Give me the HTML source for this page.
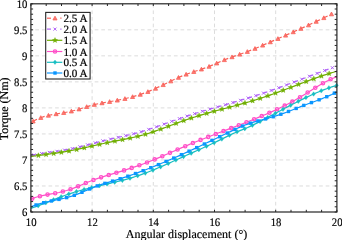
<!DOCTYPE html>
<html><head><meta charset="utf-8"><style>
html,body{margin:0;padding:0;background:#fff;}
svg{display:block;will-change:transform;}
text{text-rendering:geometricPrecision;font-family:"Liberation Serif",serif;fill:#000;stroke:#000;stroke-width:0.18px;}
.lg text{stroke-width:0.22px;}
.tk text{font-size:11.5px;}
.lg text{font-size:11.1px;}
.al{font-size:12px;}
</style></head><body>
<svg width="342" height="240" viewBox="0 0 342 240">
<rect width="342" height="240" fill="#fff"/>
<path d="M92.1 3.8V212M153.3 3.8V212M214.5 3.8V212M275.7 3.8V212" stroke="#DCDCDC" stroke-width="1" stroke-dasharray="3.7 2.9" fill="none"/>
<path d="M336.9 185.97H30.9M336.9 159.95H30.9M336.9 133.93H30.9M336.9 107.9H30.9M336.9 81.87H30.9M336.9 55.85H30.9M336.9 29.82H30.9" stroke="#DCDCDC" stroke-width="1" stroke-dasharray="3.7 2.9" stroke-dashoffset="5.7" fill="none"/>
<path d="M32.82 121.38L36.95 119.25M40.47 117.79L44.59 116.42M48.12 115.49L52.25 114.61M55.77 113.98L59.9 113.31M63.42 112.74L67.55 112.01M71.07 111.28L75.2 110.23M78.72 109.22L82.85 107.95M86.37 106.86L90.5 105.63M94.02 104.68L98.14 103.73M101.67 103.05L105.8 102.33M109.32 101.74L113.45 101.01M116.97 100.35L121.1 99.51M124.62 98.74L128.75 97.75M132.27 96.84L136.39 95.67M139.92 94.57L144.04 93.16M147.57 91.84L151.69 90.14M155.22 88.58L159.34 86.66M162.87 84.97L167 82.96M170.52 81.25L174.65 79.29M178.17 77.67L182.29 75.88M185.82 74.47L189.94 72.98M193.47 71.8L197.59 70.47M201.12 69.33L205.25 67.92M208.77 66.61L212.9 64.89M216.42 63.33L220.55 61.49M224.07 59.97L228.19 58.35M231.72 57.07L235.84 55.64M239.37 54.45L243.5 53.03M247.02 51.76L251.15 50.16M254.67 48.71L258.8 46.96M262.32 45.44L266.44 43.65M269.97 42.13L274.09 40.34M277.62 38.81L281.75 37.02M285.27 35.48L289.39 33.67M292.92 32.12L297.05 30.28M300.57 28.7L304.69 26.83M308.22 25.22L312.35 23.31M315.87 21.66L320 19.69M323.52 17.99L327.64 15.97" fill="none" stroke="#F95F57" stroke-width="1.2"/>
<path d="M33.12 119.21L35.17 122.96H31.07Z" fill="#F95F57" fill-opacity="0.8" stroke="#F95F57" stroke-width="0.8"/><path d="M40.77 115.68L42.82 119.43H38.72Z" fill="#F95F57" fill-opacity="0.8" stroke="#F95F57" stroke-width="0.8"/><path d="M48.42 113.42L50.47 117.17H46.37Z" fill="#F95F57" fill-opacity="0.8" stroke="#F95F57" stroke-width="0.8"/><path d="M56.07 111.93L58.12 115.68H54.02Z" fill="#F95F57" fill-opacity="0.8" stroke="#F95F57" stroke-width="0.8"/><path d="M63.72 110.69L65.77 114.44H61.67Z" fill="#F95F57" fill-opacity="0.8" stroke="#F95F57" stroke-width="0.8"/><path d="M71.37 109.21L73.42 112.96H69.32Z" fill="#F95F57" fill-opacity="0.8" stroke="#F95F57" stroke-width="0.8"/><path d="M79.02 107.13L81.07 110.88H76.97Z" fill="#F95F57" fill-opacity="0.8" stroke="#F95F57" stroke-width="0.8"/><path d="M86.67 104.76L88.72 108.51H84.62Z" fill="#F95F57" fill-opacity="0.8" stroke="#F95F57" stroke-width="0.8"/><path d="M94.32 102.6L96.37 106.35H92.27Z" fill="#F95F57" fill-opacity="0.8" stroke="#F95F57" stroke-width="0.8"/><path d="M101.97 100.99L104.02 104.74H99.92Z" fill="#F95F57" fill-opacity="0.8" stroke="#F95F57" stroke-width="0.8"/><path d="M109.62 99.68L111.67 103.43H107.57Z" fill="#F95F57" fill-opacity="0.8" stroke="#F95F57" stroke-width="0.8"/><path d="M117.27 98.29L119.32 102.04H115.22Z" fill="#F95F57" fill-opacity="0.8" stroke="#F95F57" stroke-width="0.8"/><path d="M124.92 96.67L126.97 100.42H122.87Z" fill="#F95F57" fill-opacity="0.8" stroke="#F95F57" stroke-width="0.8"/><path d="M132.57 94.75L134.62 98.5H130.52Z" fill="#F95F57" fill-opacity="0.8" stroke="#F95F57" stroke-width="0.8"/><path d="M140.22 92.47L142.27 96.22H138.17Z" fill="#F95F57" fill-opacity="0.8" stroke="#F95F57" stroke-width="0.8"/><path d="M147.87 89.72L149.92 93.47H145.82Z" fill="#F95F57" fill-opacity="0.8" stroke="#F95F57" stroke-width="0.8"/><path d="M155.52 86.44L157.57 90.19H153.47Z" fill="#F95F57" fill-opacity="0.8" stroke="#F95F57" stroke-width="0.8"/><path d="M163.17 82.82L165.22 86.57H161.12Z" fill="#F95F57" fill-opacity="0.8" stroke="#F95F57" stroke-width="0.8"/><path d="M170.82 79.11L172.87 82.86H168.77Z" fill="#F95F57" fill-opacity="0.8" stroke="#F95F57" stroke-width="0.8"/><path d="M178.47 75.54L180.52 79.29H176.42Z" fill="#F95F57" fill-opacity="0.8" stroke="#F95F57" stroke-width="0.8"/><path d="M186.12 72.36L188.17 76.11H184.07Z" fill="#F95F57" fill-opacity="0.8" stroke="#F95F57" stroke-width="0.8"/><path d="M193.77 69.7L195.82 73.45H191.72Z" fill="#F95F57" fill-opacity="0.8" stroke="#F95F57" stroke-width="0.8"/><path d="M201.42 67.23L203.47 70.98H199.37Z" fill="#F95F57" fill-opacity="0.8" stroke="#F95F57" stroke-width="0.8"/><path d="M209.07 64.49L211.12 68.24H207.02Z" fill="#F95F57" fill-opacity="0.8" stroke="#F95F57" stroke-width="0.8"/><path d="M216.72 61.2L218.77 64.95H214.67Z" fill="#F95F57" fill-opacity="0.8" stroke="#F95F57" stroke-width="0.8"/><path d="M224.37 57.85L226.42 61.6H222.32Z" fill="#F95F57" fill-opacity="0.8" stroke="#F95F57" stroke-width="0.8"/><path d="M232.02 54.96L234.07 58.71H229.97Z" fill="#F95F57" fill-opacity="0.8" stroke="#F95F57" stroke-width="0.8"/><path d="M239.67 52.35L241.72 56.1H237.62Z" fill="#F95F57" fill-opacity="0.8" stroke="#F95F57" stroke-width="0.8"/><path d="M247.32 49.65L249.37 53.4H245.27Z" fill="#F95F57" fill-opacity="0.8" stroke="#F95F57" stroke-width="0.8"/><path d="M254.97 46.59L257.02 50.34H252.92Z" fill="#F95F57" fill-opacity="0.8" stroke="#F95F57" stroke-width="0.8"/><path d="M262.62 43.31L264.67 47.06H260.57Z" fill="#F95F57" fill-opacity="0.8" stroke="#F95F57" stroke-width="0.8"/><path d="M270.27 40L272.32 43.75H268.22Z" fill="#F95F57" fill-opacity="0.8" stroke="#F95F57" stroke-width="0.8"/><path d="M277.92 36.68L279.97 40.43H275.87Z" fill="#F95F57" fill-opacity="0.8" stroke="#F95F57" stroke-width="0.8"/><path d="M285.57 33.35L287.62 37.1H283.52Z" fill="#F95F57" fill-opacity="0.8" stroke="#F95F57" stroke-width="0.8"/><path d="M293.22 29.98L295.27 33.73H291.17Z" fill="#F95F57" fill-opacity="0.8" stroke="#F95F57" stroke-width="0.8"/><path d="M300.87 26.57L302.92 30.32H298.82Z" fill="#F95F57" fill-opacity="0.8" stroke="#F95F57" stroke-width="0.8"/><path d="M308.52 23.08L310.57 26.83H306.47Z" fill="#F95F57" fill-opacity="0.8" stroke="#F95F57" stroke-width="0.8"/><path d="M316.17 19.51L318.22 23.26H314.12Z" fill="#F95F57" fill-opacity="0.8" stroke="#F95F57" stroke-width="0.8"/><path d="M323.82 15.85L325.87 19.6H321.77Z" fill="#F95F57" fill-opacity="0.8" stroke="#F95F57" stroke-width="0.8"/><path d="M331.47 12.06L333.52 15.81H329.42Z" fill="#F95F57" fill-opacity="0.8" stroke="#F95F57" stroke-width="0.8"/>
<path d="M30.9 155.72L37.83 154.22M41.35 153.6L45.48 152.95M49 152.44L53.12 151.86M56.65 151.37L60.78 150.75M64.3 150.17L68.42 149.4M71.95 148.67L76.08 147.74M79.6 146.88L83.73 145.84M87.25 144.93L91.38 143.84M94.9 142.91L99.03 141.84M102.55 140.95L106.68 139.96M110.2 139.14L114.33 138.21M117.85 137.42L121.98 136.5M125.5 135.7L129.62 134.73M133.15 133.87L137.27 132.8M140.8 131.83L144.93 130.61M148.45 129.5L152.57 128.14M156.1 126.93L160.22 125.48M163.75 124.22L167.88 122.73M171.4 121.46L175.53 119.99M179.05 118.76L183.17 117.36M186.7 116.19L190.82 114.87M194.35 113.76L198.47 112.5M202 111.44L206.12 110.23M209.65 109.2L213.78 108.01M217.3 107L221.43 105.83M224.95 104.83L229.07 103.65M232.6 102.64L236.72 101.45M240.25 100.41L244.38 99.19M247.9 98.12L252.03 96.84M255.55 95.73L259.68 94.39M263.2 93.21L267.32 91.81M270.85 90.58L274.97 89.12M278.5 87.85L282.62 86.35M286.15 85.05L290.28 83.51M293.8 82.19L297.93 80.63M301.45 79.3L305.57 77.73M309.1 76.39L313.23 74.83M316.75 73.5L320.88 71.95M324.4 70.63L328.52 69.11" fill="none" stroke="#AF62F7" stroke-width="1.2"/>
<path d="M32.5 153.5L35.5 156.5M32.5 156.5L35.5 153.5" fill="none" stroke="#AF62F7" stroke-width="1.0"/><path d="M40.15 152.05L43.15 155.05M40.15 155.05L43.15 152.05" fill="none" stroke="#AF62F7" stroke-width="1.0"/><path d="M47.8 150.89L50.8 153.89M47.8 153.89L50.8 150.89" fill="none" stroke="#AF62F7" stroke-width="1.0"/><path d="M55.45 149.82L58.45 152.82M55.45 152.82L58.45 149.82" fill="none" stroke="#AF62F7" stroke-width="1.0"/><path d="M63.1 148.62L66.1 151.62M63.1 151.62L66.1 148.62" fill="none" stroke="#AF62F7" stroke-width="1.0"/><path d="M70.75 147.1L73.75 150.1M70.75 150.1L73.75 147.1" fill="none" stroke="#AF62F7" stroke-width="1.0"/><path d="M78.4 145.31L81.4 148.31M78.4 148.31L81.4 145.31" fill="none" stroke="#AF62F7" stroke-width="1.0"/><path d="M86.05 143.35L89.05 146.35M86.05 146.35L89.05 143.35" fill="none" stroke="#AF62F7" stroke-width="1.0"/><path d="M93.7 141.34L96.7 144.34M93.7 144.34L96.7 141.34" fill="none" stroke="#AF62F7" stroke-width="1.0"/><path d="M101.35 139.38L104.35 142.38M101.35 142.38L104.35 139.38" fill="none" stroke="#AF62F7" stroke-width="1.0"/><path d="M109 137.57L112 140.57M109 140.57L112 137.57" fill="none" stroke="#AF62F7" stroke-width="1.0"/><path d="M116.65 135.85L119.65 138.85M116.65 138.85L119.65 135.85" fill="none" stroke="#AF62F7" stroke-width="1.0"/><path d="M124.3 134.13L127.3 137.13M124.3 137.13L127.3 134.13" fill="none" stroke="#AF62F7" stroke-width="1.0"/><path d="M131.95 132.29L134.95 135.29M131.95 135.29L134.95 132.29" fill="none" stroke="#AF62F7" stroke-width="1.0"/><path d="M139.6 130.24L142.6 133.24M139.6 133.24L142.6 130.24" fill="none" stroke="#AF62F7" stroke-width="1.0"/><path d="M147.25 127.9L150.25 130.9M147.25 130.9L150.25 127.9" fill="none" stroke="#AF62F7" stroke-width="1.0"/><path d="M154.9 125.33L157.9 128.33M154.9 128.33L157.9 125.33" fill="none" stroke="#AF62F7" stroke-width="1.0"/><path d="M162.55 122.61L165.55 125.61M162.55 125.61L165.55 122.61" fill="none" stroke="#AF62F7" stroke-width="1.0"/><path d="M170.2 119.85L173.2 122.85M170.2 122.85L173.2 119.85" fill="none" stroke="#AF62F7" stroke-width="1.0"/><path d="M177.85 117.15L180.85 120.15M177.85 120.15L180.85 117.15" fill="none" stroke="#AF62F7" stroke-width="1.0"/><path d="M185.5 114.6L188.5 117.6M185.5 117.6L188.5 114.6" fill="none" stroke="#AF62F7" stroke-width="1.0"/><path d="M193.15 112.17L196.15 115.17M193.15 115.17L196.15 112.17" fill="none" stroke="#AF62F7" stroke-width="1.0"/><path d="M200.8 109.85L203.8 112.85M200.8 112.85L203.8 109.85" fill="none" stroke="#AF62F7" stroke-width="1.0"/><path d="M208.45 107.61L211.45 110.61M208.45 110.61L211.45 107.61" fill="none" stroke="#AF62F7" stroke-width="1.0"/><path d="M216.1 105.42L219.1 108.42M216.1 108.42L219.1 105.42" fill="none" stroke="#AF62F7" stroke-width="1.0"/><path d="M223.75 103.24L226.75 106.24M223.75 106.24L226.75 103.24" fill="none" stroke="#AF62F7" stroke-width="1.0"/><path d="M231.4 101.05L234.4 104.05M231.4 104.05L234.4 101.05" fill="none" stroke="#AF62F7" stroke-width="1.0"/><path d="M239.05 98.82L242.05 101.82M239.05 101.82L242.05 98.82" fill="none" stroke="#AF62F7" stroke-width="1.0"/><path d="M246.7 96.53L249.7 99.53M246.7 99.53L249.7 96.53" fill="none" stroke="#AF62F7" stroke-width="1.0"/><path d="M254.35 94.13L257.35 97.13M254.35 97.13L257.35 94.13" fill="none" stroke="#AF62F7" stroke-width="1.0"/><path d="M262 91.61L265 94.61M262 94.61L265 91.61" fill="none" stroke="#AF62F7" stroke-width="1.0"/><path d="M269.65 88.97L272.65 91.97M269.65 91.97L272.65 88.97" fill="none" stroke="#AF62F7" stroke-width="1.0"/><path d="M277.3 86.24L280.3 89.24M277.3 89.24L280.3 86.24" fill="none" stroke="#AF62F7" stroke-width="1.0"/><path d="M284.95 83.44L287.95 86.44M284.95 86.44L287.95 83.44" fill="none" stroke="#AF62F7" stroke-width="1.0"/><path d="M292.6 80.58L295.6 83.58M292.6 83.58L295.6 80.58" fill="none" stroke="#AF62F7" stroke-width="1.0"/><path d="M300.25 77.68L303.25 80.68M300.25 80.68L303.25 77.68" fill="none" stroke="#AF62F7" stroke-width="1.0"/><path d="M307.9 74.78L310.9 77.78M307.9 77.78L310.9 74.78" fill="none" stroke="#AF62F7" stroke-width="1.0"/><path d="M315.55 71.89L318.55 74.89M315.55 74.89L318.55 71.89" fill="none" stroke="#AF62F7" stroke-width="1.0"/><path d="M323.2 69.02L326.2 72.02M323.2 72.02L326.2 69.02" fill="none" stroke="#AF62F7" stroke-width="1.0"/><path d="M330.85 66.21L333.85 69.21M330.85 69.21L333.85 66.21" fill="none" stroke="#AF62F7" stroke-width="1.0"/>
<path d="M30.9 156.45L33.45 156.11L36 155.77L38.55 155.44L41.1 155.11L43.65 154.78L46.2 154.45L48.75 154.12L51.3 153.78L53.85 153.43L56.4 153.07L58.95 152.69L61.5 152.3L64.05 151.89L66.6 151.46L69.15 151L71.7 150.52L74.25 150.02L76.8 149.5L79.35 148.95L81.9 148.4L84.45 147.83L87 147.26L89.55 146.68L92.1 146.09L94.65 145.51L97.2 144.93L99.75 144.35L102.3 143.78L104.85 143.23L107.4 142.69L109.95 142.17L112.5 141.66L115.05 141.15L117.6 140.66L120.15 140.16L122.7 139.66L125.25 139.15L127.8 138.62L130.35 138.08L132.9 137.51L135.45 136.92L138 136.3L140.55 135.65L143.1 134.96L145.65 134.22L148.2 133.45L150.75 132.64L153.3 131.79L155.85 130.92L158.4 130.01L160.95 129.09L163.5 128.15L166.05 127.2L168.6 126.24L171.15 125.28L173.7 124.32L176.25 123.37L178.8 122.42L181.35 121.5L183.9 120.59L186.45 119.71L189 118.85L191.55 118.01L194.1 117.2L196.65 116.4L199.2 115.62L201.75 114.86L204.3 114.11L206.85 113.37L209.4 112.65L211.95 111.94L214.5 111.24L217.05 110.54L219.6 109.85L222.15 109.17L224.7 108.49L227.25 107.81L229.8 107.14L232.35 106.46L234.9 105.77L237.45 105.09L240 104.39L242.55 103.69L245.1 102.97L247.65 102.25L250.2 101.51L252.75 100.75L255.3 99.97L257.85 99.18L260.4 98.36L262.95 97.53L265.5 96.67L268.05 95.79L270.6 94.89L273.15 93.98L275.7 93.05L278.25 92.12L280.8 91.17L283.35 90.21L285.9 89.25L288.45 88.28L291 87.3L293.55 86.33L296.1 85.36L298.65 84.39L301.2 83.42L303.75 82.46L306.3 81.5L308.85 80.56L311.4 79.62L313.95 78.7L316.5 77.79L319.05 76.9L321.6 76.03L324.15 75.18L326.7 74.34L329.25 73.54L331.8 72.75L334.35 72L336.9 71.27" fill="none" stroke="#70AE02" stroke-width="1.2"/>
<path d="M38.43 152.76L39.11 154.52L41 154.62L39.52 155.81L40.02 157.64L38.43 156.61L36.84 157.64L37.34 155.81L35.86 154.62L37.75 154.52Z" fill="#70AE02" stroke="#70AE02" stroke-width="0.4"/><path d="M46.08 151.77L46.76 153.54L48.65 153.63L47.17 154.82L47.67 156.65L46.08 155.62L44.49 156.65L44.99 154.82L43.51 153.63L45.4 153.54Z" fill="#70AE02" stroke="#70AE02" stroke-width="0.4"/><path d="M53.73 150.75L54.41 152.52L56.3 152.61L54.82 153.8L55.32 155.63L53.73 154.6L52.14 155.63L52.64 153.8L51.16 152.61L53.05 152.52Z" fill="#70AE02" stroke="#70AE02" stroke-width="0.4"/><path d="M61.38 149.62L62.06 151.39L63.95 151.48L62.47 152.67L62.97 154.5L61.38 153.47L59.79 154.5L60.29 152.67L58.81 151.48L60.7 151.39Z" fill="#70AE02" stroke="#70AE02" stroke-width="0.4"/><path d="M69.03 148.32L69.71 150.09L71.6 150.19L70.12 151.38L70.62 153.21L69.03 152.17L67.44 153.21L67.94 151.38L66.46 150.19L68.35 150.09Z" fill="#70AE02" stroke="#70AE02" stroke-width="0.4"/><path d="M76.68 146.82L77.36 148.59L79.25 148.69L77.77 149.88L78.27 151.7L76.68 150.67L75.09 151.7L75.59 149.88L74.11 148.69L76 148.59Z" fill="#70AE02" stroke="#70AE02" stroke-width="0.4"/><path d="M84.33 145.16L85.01 146.93L86.9 147.02L85.42 148.21L85.92 150.04L84.33 149.01L82.74 150.04L83.24 148.21L81.76 147.02L83.65 146.93Z" fill="#70AE02" stroke="#70AE02" stroke-width="0.4"/><path d="M91.98 143.42L92.66 145.19L94.55 145.28L93.07 146.47L93.57 148.3L91.98 147.27L90.39 148.3L90.89 146.47L89.41 145.28L91.3 145.19Z" fill="#70AE02" stroke="#70AE02" stroke-width="0.4"/><path d="M99.63 141.68L100.31 143.45L102.2 143.54L100.72 144.73L101.22 146.56L99.63 145.53L98.04 146.56L98.54 144.73L97.06 143.54L98.95 143.45Z" fill="#70AE02" stroke="#70AE02" stroke-width="0.4"/><path d="M107.28 140.02L107.96 141.78L109.85 141.88L108.37 143.07L108.87 144.9L107.28 143.87L105.69 144.9L106.19 143.07L104.71 141.88L106.6 141.78Z" fill="#70AE02" stroke="#70AE02" stroke-width="0.4"/><path d="M114.93 138.48L115.61 140.25L117.5 140.34L116.02 141.53L116.52 143.36L114.93 142.33L113.34 143.36L113.84 141.53L112.36 140.34L114.25 140.25Z" fill="#70AE02" stroke="#70AE02" stroke-width="0.4"/><path d="M122.58 136.98L123.26 138.75L125.15 138.85L123.67 140.04L124.17 141.86L122.58 140.83L120.99 141.86L121.49 140.04L120.01 138.85L121.9 138.75Z" fill="#70AE02" stroke="#70AE02" stroke-width="0.4"/><path d="M130.23 135.4L130.91 137.17L132.8 137.27L131.32 138.46L131.82 140.29L130.23 139.25L128.64 140.29L129.14 138.46L127.66 137.27L129.55 137.17Z" fill="#70AE02" stroke="#70AE02" stroke-width="0.4"/><path d="M137.88 133.63L138.56 135.4L140.45 135.5L138.97 136.69L139.47 138.51L137.88 137.48L136.29 138.51L136.79 136.69L135.31 135.5L137.2 135.4Z" fill="#70AE02" stroke="#70AE02" stroke-width="0.4"/><path d="M145.53 131.56L146.21 133.33L148.1 133.43L146.62 134.62L147.12 136.44L145.53 135.41L143.94 136.44L144.44 134.62L142.96 133.43L144.85 133.33Z" fill="#70AE02" stroke="#70AE02" stroke-width="0.4"/><path d="M153.18 129.13L153.86 130.9L155.75 131L154.27 132.19L154.77 134.02L153.18 132.98L151.59 134.02L152.09 132.19L150.61 131L152.5 130.9Z" fill="#70AE02" stroke="#70AE02" stroke-width="0.4"/><path d="M160.83 126.43L161.51 128.2L163.4 128.3L161.92 129.49L162.42 131.32L160.83 130.28L159.24 131.32L159.74 129.49L158.26 128.3L160.15 128.2Z" fill="#70AE02" stroke="#70AE02" stroke-width="0.4"/><path d="M168.48 123.59L169.16 125.35L171.05 125.45L169.57 126.64L170.07 128.47L168.48 127.44L166.89 128.47L167.39 126.64L165.91 125.45L167.8 125.35Z" fill="#70AE02" stroke="#70AE02" stroke-width="0.4"/><path d="M176.13 120.71L176.81 122.48L178.7 122.58L177.22 123.77L177.72 125.6L176.13 124.56L174.54 125.6L175.04 123.77L173.56 122.58L175.45 122.48Z" fill="#70AE02" stroke="#70AE02" stroke-width="0.4"/><path d="M183.78 117.93L184.46 119.7L186.35 119.8L184.87 120.99L185.37 122.82L183.78 121.78L182.19 122.82L182.69 120.99L181.21 119.8L183.1 119.7Z" fill="#70AE02" stroke="#70AE02" stroke-width="0.4"/><path d="M191.43 115.35L192.11 117.12L194 117.22L192.52 118.41L193.02 120.24L191.43 119.2L189.84 120.24L190.34 118.41L188.86 117.22L190.75 117.12Z" fill="#70AE02" stroke="#70AE02" stroke-width="0.4"/><path d="M199.08 112.96L199.76 114.73L201.65 114.82L200.17 116.01L200.67 117.84L199.08 116.81L197.49 117.84L197.99 116.01L196.51 114.82L198.4 114.73Z" fill="#70AE02" stroke="#70AE02" stroke-width="0.4"/><path d="M206.73 110.71L207.41 112.48L209.3 112.57L207.82 113.76L208.32 115.59L206.73 114.56L205.14 115.59L205.64 113.76L204.16 112.57L206.05 112.48Z" fill="#70AE02" stroke="#70AE02" stroke-width="0.4"/><path d="M214.38 108.57L215.06 110.34L216.95 110.43L215.47 111.62L215.97 113.45L214.38 112.42L212.79 113.45L213.29 111.62L211.81 110.43L213.7 110.34Z" fill="#70AE02" stroke="#70AE02" stroke-width="0.4"/><path d="M222.03 106.5L222.71 108.27L224.6 108.37L223.12 109.56L223.62 111.39L222.03 110.35L220.44 111.39L220.94 109.56L219.46 108.37L221.35 108.27Z" fill="#70AE02" stroke="#70AE02" stroke-width="0.4"/><path d="M229.68 104.47L230.36 106.24L232.25 106.33L230.77 107.52L231.27 109.35L229.68 108.32L228.09 109.35L228.59 107.52L227.11 106.33L229 106.24Z" fill="#70AE02" stroke="#70AE02" stroke-width="0.4"/><path d="M237.33 102.42L238.01 104.19L239.9 104.28L238.42 105.47L238.92 107.3L237.33 106.27L235.74 107.3L236.24 105.47L234.76 104.28L236.65 104.19Z" fill="#70AE02" stroke="#70AE02" stroke-width="0.4"/><path d="M244.98 100.31L245.66 102.08L247.55 102.17L246.07 103.36L246.57 105.19L244.98 104.16L243.39 105.19L243.89 103.36L242.41 102.17L244.3 102.08Z" fill="#70AE02" stroke="#70AE02" stroke-width="0.4"/><path d="M252.63 98.08L253.31 99.85L255.2 99.95L253.72 101.14L254.22 102.97L252.63 101.93L251.04 102.97L251.54 101.14L250.06 99.95L251.95 99.85Z" fill="#70AE02" stroke="#70AE02" stroke-width="0.4"/><path d="M260.28 95.7L260.96 97.47L262.85 97.57L261.37 98.76L261.87 100.59L260.28 99.55L258.69 100.59L259.19 98.76L257.71 97.57L259.6 97.47Z" fill="#70AE02" stroke="#70AE02" stroke-width="0.4"/><path d="M267.93 93.13L268.61 94.9L270.5 95L269.02 96.18L269.52 98.01L267.93 96.98L266.34 98.01L266.84 96.18L265.36 95L267.25 94.9Z" fill="#70AE02" stroke="#70AE02" stroke-width="0.4"/><path d="M275.58 90.4L276.26 92.17L278.15 92.26L276.67 93.45L277.17 95.28L275.58 94.25L273.99 95.28L274.49 93.45L273.01 92.26L274.9 92.17Z" fill="#70AE02" stroke="#70AE02" stroke-width="0.4"/><path d="M283.23 87.56L283.91 89.32L285.8 89.42L284.32 90.61L284.82 92.44L283.23 91.41L281.64 92.44L282.14 90.61L280.66 89.42L282.55 89.32Z" fill="#70AE02" stroke="#70AE02" stroke-width="0.4"/><path d="M290.88 84.65L291.56 86.42L293.45 86.52L291.97 87.71L292.47 89.53L290.88 88.5L289.29 89.53L289.79 87.71L288.31 86.52L290.2 86.42Z" fill="#70AE02" stroke="#70AE02" stroke-width="0.4"/><path d="M298.53 81.73L299.21 83.5L301.1 83.6L299.62 84.79L300.12 86.62L298.53 85.58L296.94 86.62L297.44 84.79L295.96 83.6L297.85 83.5Z" fill="#70AE02" stroke="#70AE02" stroke-width="0.4"/><path d="M306.18 78.85L306.86 80.62L308.75 80.71L307.27 81.9L307.77 83.73L306.18 82.7L304.59 83.73L305.09 81.9L303.61 80.71L305.5 80.62Z" fill="#70AE02" stroke="#70AE02" stroke-width="0.4"/><path d="M313.83 76.04L314.51 77.81L316.4 77.91L314.92 79.1L315.42 80.93L313.83 79.89L312.24 80.93L312.74 79.1L311.26 77.91L313.15 77.81Z" fill="#70AE02" stroke="#70AE02" stroke-width="0.4"/><path d="M321.48 73.37L322.16 75.14L324.05 75.23L322.57 76.42L323.07 78.25L321.48 77.22L319.89 78.25L320.39 76.42L318.91 75.23L320.8 75.14Z" fill="#70AE02" stroke="#70AE02" stroke-width="0.4"/><path d="M329.13 70.87L329.81 72.64L331.7 72.74L330.22 73.93L330.72 75.76L329.13 74.72L327.54 75.76L328.04 73.93L326.56 72.74L328.45 72.64Z" fill="#70AE02" stroke="#70AE02" stroke-width="0.4"/>
<path d="M30.9 199.16L33.45 198.14L36 197.27L38.55 196.53L41.1 195.9L43.65 195.34L46.2 194.85L48.75 194.39L51.3 193.95L53.85 193.5L56.4 193.01L58.95 192.48L61.5 191.89L64.05 191.24L66.6 190.52L69.15 189.72L71.7 188.85L74.25 187.9L76.8 186.88L79.35 185.83L81.9 184.74L84.45 183.64L87 182.56L89.55 181.49L92.1 180.47L94.65 179.51L97.2 178.61L99.75 177.77L102.3 176.96L104.85 176.18L107.4 175.42L109.95 174.67L112.5 173.91L115.05 173.14L117.6 172.37L120.15 171.59L122.7 170.81L125.25 170.01L127.8 169.19L130.35 168.36L132.9 167.52L135.45 166.66L138 165.77L140.55 164.87L143.1 163.94L145.65 162.99L148.2 162.01L150.75 161L153.3 159.97L155.85 158.92L158.4 157.85L160.95 156.76L163.5 155.66L166.05 154.56L168.6 153.44L171.15 152.32L173.7 151.2L176.25 150.08L178.8 148.97L181.35 147.86L183.9 146.77L186.45 145.68L189 144.62L191.55 143.56L194.1 142.51L196.65 141.48L199.2 140.46L201.75 139.44L204.3 138.44L206.85 137.44L209.4 136.45L211.95 135.47L214.5 134.49L217.05 133.51L219.6 132.54L222.15 131.57L224.7 130.6L227.25 129.63L229.8 128.65L232.35 127.68L234.9 126.71L237.45 125.73L240 124.74L242.55 123.76L245.1 122.76L247.65 121.76L250.2 120.75L252.75 119.73L255.3 118.7L257.85 117.66L260.4 116.6L262.95 115.54L265.5 114.46L268.05 113.36L270.6 112.24L273.15 111.11L275.7 109.95L278.25 108.76L280.8 107.55L283.35 106.3L285.9 105.02L288.45 103.71L291 102.36L293.55 100.98L296.1 99.55L298.65 98.07L301.2 96.55L303.75 94.99L306.3 93.4L308.85 91.79L311.4 90.18L313.95 88.58L316.5 87.01L319.05 85.47L321.6 83.98L324.15 82.55L326.7 81.2L329.25 79.94L331.8 78.78L334.35 77.74L336.9 76.83" fill="none" stroke="#FF50C8" stroke-width="1.2"/>
<circle cx="32.25" cy="198.6" r="1.65" fill="none" stroke="#FF50C8" stroke-width="1.3"/><circle cx="39.9" cy="196.18" r="1.65" fill="none" stroke="#FF50C8" stroke-width="1.3"/><circle cx="47.55" cy="194.6" r="1.65" fill="none" stroke="#FF50C8" stroke-width="1.3"/><circle cx="55.2" cy="193.24" r="1.65" fill="none" stroke="#FF50C8" stroke-width="1.3"/><circle cx="62.85" cy="191.55" r="1.65" fill="none" stroke="#FF50C8" stroke-width="1.3"/><circle cx="70.5" cy="189.27" r="1.65" fill="none" stroke="#FF50C8" stroke-width="1.3"/><circle cx="78.15" cy="186.33" r="1.65" fill="none" stroke="#FF50C8" stroke-width="1.3"/><circle cx="85.8" cy="183.07" r="1.65" fill="none" stroke="#FF50C8" stroke-width="1.3"/><circle cx="93.45" cy="179.96" r="1.65" fill="none" stroke="#FF50C8" stroke-width="1.3"/><circle cx="101.1" cy="177.34" r="1.65" fill="none" stroke="#FF50C8" stroke-width="1.3"/><circle cx="108.75" cy="175.02" r="1.65" fill="none" stroke="#FF50C8" stroke-width="1.3"/><circle cx="116.4" cy="172.74" r="1.65" fill="none" stroke="#FF50C8" stroke-width="1.3"/><circle cx="124.05" cy="170.38" r="1.65" fill="none" stroke="#FF50C8" stroke-width="1.3"/><circle cx="131.7" cy="167.92" r="1.65" fill="none" stroke="#FF50C8" stroke-width="1.3"/><circle cx="139.35" cy="165.3" r="1.65" fill="none" stroke="#FF50C8" stroke-width="1.3"/><circle cx="147" cy="162.47" r="1.65" fill="none" stroke="#FF50C8" stroke-width="1.3"/><circle cx="154.65" cy="159.41" r="1.65" fill="none" stroke="#FF50C8" stroke-width="1.3"/><circle cx="162.3" cy="156.18" r="1.65" fill="none" stroke="#FF50C8" stroke-width="1.3"/><circle cx="169.95" cy="152.85" r="1.65" fill="none" stroke="#FF50C8" stroke-width="1.3"/><circle cx="177.6" cy="149.49" r="1.65" fill="none" stroke="#FF50C8" stroke-width="1.3"/><circle cx="185.25" cy="146.19" r="1.65" fill="none" stroke="#FF50C8" stroke-width="1.3"/><circle cx="192.9" cy="143" r="1.65" fill="none" stroke="#FF50C8" stroke-width="1.3"/><circle cx="200.55" cy="139.92" r="1.65" fill="none" stroke="#FF50C8" stroke-width="1.3"/><circle cx="208.2" cy="136.92" r="1.65" fill="none" stroke="#FF50C8" stroke-width="1.3"/><circle cx="215.85" cy="133.97" r="1.65" fill="none" stroke="#FF50C8" stroke-width="1.3"/><circle cx="223.5" cy="131.05" r="1.65" fill="none" stroke="#FF50C8" stroke-width="1.3"/><circle cx="231.15" cy="128.14" r="1.65" fill="none" stroke="#FF50C8" stroke-width="1.3"/><circle cx="238.8" cy="125.21" r="1.65" fill="none" stroke="#FF50C8" stroke-width="1.3"/><circle cx="246.45" cy="122.23" r="1.65" fill="none" stroke="#FF50C8" stroke-width="1.3"/><circle cx="254.1" cy="119.18" r="1.65" fill="none" stroke="#FF50C8" stroke-width="1.3"/><circle cx="261.75" cy="116.04" r="1.65" fill="none" stroke="#FF50C8" stroke-width="1.3"/><circle cx="269.4" cy="112.77" r="1.65" fill="none" stroke="#FF50C8" stroke-width="1.3"/><circle cx="277.05" cy="109.32" r="1.65" fill="none" stroke="#FF50C8" stroke-width="1.3"/><circle cx="284.7" cy="105.63" r="1.65" fill="none" stroke="#FF50C8" stroke-width="1.3"/><circle cx="292.35" cy="101.63" r="1.65" fill="none" stroke="#FF50C8" stroke-width="1.3"/><circle cx="300" cy="97.27" r="1.65" fill="none" stroke="#FF50C8" stroke-width="1.3"/><circle cx="307.65" cy="92.55" r="1.65" fill="none" stroke="#FF50C8" stroke-width="1.3"/><circle cx="315.3" cy="87.74" r="1.65" fill="none" stroke="#FF50C8" stroke-width="1.3"/><circle cx="322.95" cy="83.21" r="1.65" fill="none" stroke="#FF50C8" stroke-width="1.3"/><circle cx="330.6" cy="79.32" r="1.65" fill="none" stroke="#FF50C8" stroke-width="1.3"/>
<path d="M30.9 208.43L33.45 207.54L36 206.61L38.55 205.65L41.1 204.67L43.65 203.67L46.2 202.66L48.75 201.64L51.3 200.62L53.85 199.61L56.4 198.6L58.95 197.61L61.5 196.64L64.05 195.7L66.6 194.79L69.15 193.91L71.7 193.07L74.25 192.27L76.8 191.51L79.35 190.77L81.9 190.07L84.45 189.39L87 188.73L89.55 188.09L92.1 187.47L94.65 186.86L97.2 186.27L99.75 185.68L102.3 185.09L104.85 184.51L107.4 183.93L109.95 183.34L112.5 182.75L115.05 182.15L117.6 181.53L120.15 180.89L122.7 180.24L125.25 179.55L127.8 178.85L130.35 178.11L132.9 177.33L135.45 176.52L138 175.68L140.55 174.81L143.1 173.9L145.65 172.95L148.2 171.98L150.75 170.98L153.3 169.95L155.85 168.89L158.4 167.82L160.95 166.72L163.5 165.61L166.05 164.48L168.6 163.35L171.15 162.2L173.7 161.05L176.25 159.89L178.8 158.73L181.35 157.58L183.9 156.43L186.45 155.28L189 154.14L191.55 153L194.1 151.86L196.65 150.72L199.2 149.58L201.75 148.43L204.3 147.28L206.85 146.12L209.4 144.95L211.95 143.77L214.5 142.57L217.05 141.36L219.6 140.13L222.15 138.89L224.7 137.63L227.25 136.36L229.8 135.12L232.35 133.9L234.9 132.74L237.45 131.64L240 130.61L242.55 129.62L245.1 128.6L247.65 127.52L250.2 126.36L252.75 125.15L255.3 123.89L257.85 122.6L260.4 121.28L262.95 119.94L265.5 118.6L268.05 117.24L270.6 115.88L273.15 114.52L275.7 113.16L278.25 111.79L280.8 110.43L283.35 109.07L285.9 107.72L288.45 106.38L291 105.05L293.55 103.73L296.1 102.43L298.65 101.14L301.2 99.87L303.75 98.63L306.3 97.4L308.85 96.21L311.4 95.04L313.95 93.89L316.5 92.78L319.05 91.71L321.6 90.67L324.15 89.66L326.7 88.7L329.25 87.78L331.8 86.9L334.35 86.07L336.9 85.28" fill="none" stroke="#17BEC2" stroke-width="1.2"/>
<path d="M38.2 203.48L39.99 205.78L38.2 208.08L36.41 205.78Z" fill="#17BEC2" stroke="#17BEC2" stroke-width="0.3"/><path d="M45.85 200.5L47.64 202.8L45.85 205.1L44.06 202.8Z" fill="#17BEC2" stroke="#17BEC2" stroke-width="0.3"/><path d="M53.5 197.45L55.29 199.75L53.5 202.05L51.71 199.75Z" fill="#17BEC2" stroke="#17BEC2" stroke-width="0.3"/><path d="M61.15 194.48L62.94 196.78L61.15 199.08L59.36 196.78Z" fill="#17BEC2" stroke="#17BEC2" stroke-width="0.3"/><path d="M68.8 191.73L70.59 194.03L68.8 196.33L67.01 194.03Z" fill="#17BEC2" stroke="#17BEC2" stroke-width="0.3"/><path d="M76.45 189.31L78.24 191.61L76.45 193.91L74.66 191.61Z" fill="#17BEC2" stroke="#17BEC2" stroke-width="0.3"/><path d="M84.1 187.18L85.89 189.48L84.1 191.78L82.31 189.48Z" fill="#17BEC2" stroke="#17BEC2" stroke-width="0.3"/><path d="M91.75 185.25L93.54 187.55L91.75 189.85L89.96 187.55Z" fill="#17BEC2" stroke="#17BEC2" stroke-width="0.3"/><path d="M99.4 183.46L101.19 185.76L99.4 188.06L97.61 185.76Z" fill="#17BEC2" stroke="#17BEC2" stroke-width="0.3"/><path d="M107.05 181.71L108.84 184.01L107.05 186.31L105.26 184.01Z" fill="#17BEC2" stroke="#17BEC2" stroke-width="0.3"/><path d="M114.7 179.93L116.49 182.23L114.7 184.53L112.91 182.23Z" fill="#17BEC2" stroke="#17BEC2" stroke-width="0.3"/><path d="M122.35 178.03L124.14 180.33L122.35 182.63L120.56 180.33Z" fill="#17BEC2" stroke="#17BEC2" stroke-width="0.3"/><path d="M130 175.91L131.79 178.21L130 180.51L128.21 178.21Z" fill="#17BEC2" stroke="#17BEC2" stroke-width="0.3"/><path d="M137.65 173.5L139.44 175.8L137.65 178.1L135.86 175.8Z" fill="#17BEC2" stroke="#17BEC2" stroke-width="0.3"/><path d="M145.3 170.79L147.09 173.09L145.3 175.39L143.51 173.09Z" fill="#17BEC2" stroke="#17BEC2" stroke-width="0.3"/><path d="M152.95 167.79L154.74 170.09L152.95 172.39L151.16 170.09Z" fill="#17BEC2" stroke="#17BEC2" stroke-width="0.3"/><path d="M160.6 164.57L162.39 166.87L160.6 169.17L158.81 166.87Z" fill="#17BEC2" stroke="#17BEC2" stroke-width="0.3"/><path d="M168.25 161.2L170.04 163.5L168.25 165.8L166.46 163.5Z" fill="#17BEC2" stroke="#17BEC2" stroke-width="0.3"/><path d="M175.9 157.75L177.69 160.05L175.9 162.35L174.11 160.05Z" fill="#17BEC2" stroke="#17BEC2" stroke-width="0.3"/><path d="M183.55 154.28L185.34 156.58L183.55 158.88L181.76 156.58Z" fill="#17BEC2" stroke="#17BEC2" stroke-width="0.3"/><path d="M191.2 150.85L192.99 153.15L191.2 155.45L189.41 153.15Z" fill="#17BEC2" stroke="#17BEC2" stroke-width="0.3"/><path d="M198.85 147.43L200.64 149.73L198.85 152.03L197.06 149.73Z" fill="#17BEC2" stroke="#17BEC2" stroke-width="0.3"/><path d="M206.5 143.98L208.29 146.28L206.5 148.58L204.71 146.28Z" fill="#17BEC2" stroke="#17BEC2" stroke-width="0.3"/><path d="M214.15 140.44L215.94 142.74L214.15 145.04L212.36 142.74Z" fill="#17BEC2" stroke="#17BEC2" stroke-width="0.3"/><path d="M221.8 136.76L223.59 139.06L221.8 141.36L220.01 139.06Z" fill="#17BEC2" stroke="#17BEC2" stroke-width="0.3"/><path d="M229.45 132.99L231.24 135.29L229.45 137.59L227.66 135.29Z" fill="#17BEC2" stroke="#17BEC2" stroke-width="0.3"/><path d="M237.1 129.48L238.89 131.78L237.1 134.08L235.31 131.78Z" fill="#17BEC2" stroke="#17BEC2" stroke-width="0.3"/><path d="M244.75 126.44L246.54 128.74L244.75 131.04L242.96 128.74Z" fill="#17BEC2" stroke="#17BEC2" stroke-width="0.3"/><path d="M252.4 123.02L254.19 125.32L252.4 127.62L250.61 125.32Z" fill="#17BEC2" stroke="#17BEC2" stroke-width="0.3"/><path d="M260.05 119.16L261.84 121.46L260.05 123.76L258.26 121.46Z" fill="#17BEC2" stroke="#17BEC2" stroke-width="0.3"/><path d="M267.7 115.13L269.49 117.43L267.7 119.73L265.91 117.43Z" fill="#17BEC2" stroke="#17BEC2" stroke-width="0.3"/><path d="M275.35 111.04L277.14 113.34L275.35 115.64L273.56 113.34Z" fill="#17BEC2" stroke="#17BEC2" stroke-width="0.3"/><path d="M283 106.96L284.79 109.26L283 111.56L281.21 109.26Z" fill="#17BEC2" stroke="#17BEC2" stroke-width="0.3"/><path d="M290.65 102.93L292.44 105.23L290.65 107.53L288.86 105.23Z" fill="#17BEC2" stroke="#17BEC2" stroke-width="0.3"/><path d="M298.3 99.02L300.09 101.32L298.3 103.62L296.51 101.32Z" fill="#17BEC2" stroke="#17BEC2" stroke-width="0.3"/><path d="M305.95 95.27L307.74 97.57L305.95 99.87L304.16 97.57Z" fill="#17BEC2" stroke="#17BEC2" stroke-width="0.3"/><path d="M313.6 91.75L315.39 94.05L313.6 96.35L311.81 94.05Z" fill="#17BEC2" stroke="#17BEC2" stroke-width="0.3"/><path d="M321.25 88.51L323.04 90.81L321.25 93.11L319.46 90.81Z" fill="#17BEC2" stroke="#17BEC2" stroke-width="0.3"/><path d="M328.9 85.6L330.69 87.9L328.9 90.2L327.11 87.9Z" fill="#17BEC2" stroke="#17BEC2" stroke-width="0.3"/><path d="M336.55 83.09L338.34 85.39L336.55 87.69L334.76 85.39Z" fill="#17BEC2" stroke="#17BEC2" stroke-width="0.3"/>
<path d="M30.9 206.92L33.45 205.9L36 204.98L38.55 204.16L41.1 203.41L43.65 202.74L46.2 202.12L48.75 201.54L51.3 200.99L53.85 200.46L56.4 199.93L58.95 199.4L61.5 198.84L64.05 198.26L66.6 197.62L69.15 196.93L71.7 196.17L74.25 195.33L76.8 194.39L79.35 193.39L81.9 192.32L84.45 191.23L87 190.12L89.55 189.01L92.1 187.93L94.65 186.88L97.2 185.91L99.75 185L102.3 184.16L104.85 183.37L107.4 182.62L109.95 181.87L112.5 181.12L115.05 180.36L117.6 179.57L120.15 178.77L122.7 177.94L125.25 177.1L127.8 176.24L130.35 175.36L132.9 174.46L135.45 173.55L138 172.62L140.55 171.67L143.1 170.71L145.65 169.73L148.2 168.74L150.75 167.74L153.3 166.71L155.85 165.68L158.4 164.63L160.95 163.57L163.5 162.5L166.05 161.42L168.6 160.32L171.15 159.22L173.7 158.1L176.25 156.97L178.8 155.84L181.35 154.69L183.9 153.54L186.45 152.37L189 151.2L191.55 150.03L194.1 148.84L196.65 147.65L199.2 146.45L201.75 145.25L204.3 144.04L206.85 142.83L209.4 141.62L211.95 140.4L214.5 139.18L217.05 137.96L219.6 136.74L222.15 135.52L224.7 134.29L227.25 133.07L229.8 131.85L232.35 130.64L234.9 129.45L237.45 128.29L240 127.16L242.55 126.08L245.1 125.06L247.65 124.1L250.2 123.21L252.75 122.4L255.3 121.66L257.85 120.96L260.4 120.29L262.95 119.62L265.5 118.95L268.05 118.25L270.6 117.51L273.15 116.75L275.7 115.95L278.25 115.12L280.8 114.26L283.35 113.37L285.9 112.44L288.45 111.48L291 110.49L293.55 109.48L296.1 108.46L298.65 107.44L301.2 106.43L303.75 105.44L306.3 104.48L308.85 103.54L311.4 102.61L313.95 101.69L316.5 100.76L319.05 99.81L321.6 98.83L324.15 97.81L326.7 96.74L329.25 95.61L331.8 94.42L334.35 93.14L336.9 91.78" fill="none" stroke="#0A96FF" stroke-width="1.2"/>
<rect x="34.35" y="203.26" width="3.4" height="3.4" fill="#0A96FF"/><rect x="42" y="201.02" width="3.4" height="3.4" fill="#0A96FF"/><rect x="49.65" y="199.28" width="3.4" height="3.4" fill="#0A96FF"/><rect x="57.3" y="197.69" width="3.4" height="3.4" fill="#0A96FF"/><rect x="64.95" y="195.91" width="3.4" height="3.4" fill="#0A96FF"/><rect x="72.6" y="193.61" width="3.4" height="3.4" fill="#0A96FF"/><rect x="80.25" y="190.6" width="3.4" height="3.4" fill="#0A96FF"/><rect x="87.9" y="187.29" width="3.4" height="3.4" fill="#0A96FF"/><rect x="95.55" y="184.19" width="3.4" height="3.4" fill="#0A96FF"/><rect x="103.2" y="181.66" width="3.4" height="3.4" fill="#0A96FF"/><rect x="110.85" y="179.41" width="3.4" height="3.4" fill="#0A96FF"/><rect x="118.5" y="177.05" width="3.4" height="3.4" fill="#0A96FF"/><rect x="126.15" y="174.52" width="3.4" height="3.4" fill="#0A96FF"/><rect x="133.8" y="171.83" width="3.4" height="3.4" fill="#0A96FF"/><rect x="141.45" y="168.99" width="3.4" height="3.4" fill="#0A96FF"/><rect x="149.1" y="166.02" width="3.4" height="3.4" fill="#0A96FF"/><rect x="156.75" y="162.91" width="3.4" height="3.4" fill="#0A96FF"/><rect x="164.4" y="159.7" width="3.4" height="3.4" fill="#0A96FF"/><rect x="172.05" y="156.38" width="3.4" height="3.4" fill="#0A96FF"/><rect x="179.7" y="152.97" width="3.4" height="3.4" fill="#0A96FF"/><rect x="187.35" y="149.48" width="3.4" height="3.4" fill="#0A96FF"/><rect x="195" y="145.93" width="3.4" height="3.4" fill="#0A96FF"/><rect x="202.65" y="142.32" width="3.4" height="3.4" fill="#0A96FF"/><rect x="210.3" y="138.68" width="3.4" height="3.4" fill="#0A96FF"/><rect x="217.95" y="135.02" width="3.4" height="3.4" fill="#0A96FF"/><rect x="225.6" y="131.35" width="3.4" height="3.4" fill="#0A96FF"/><rect x="233.25" y="127.73" width="3.4" height="3.4" fill="#0A96FF"/><rect x="240.9" y="124.36" width="3.4" height="3.4" fill="#0A96FF"/><rect x="248.55" y="121.49" width="3.4" height="3.4" fill="#0A96FF"/><rect x="256.2" y="119.25" width="3.4" height="3.4" fill="#0A96FF"/><rect x="263.85" y="117.23" width="3.4" height="3.4" fill="#0A96FF"/><rect x="271.5" y="115.03" width="3.4" height="3.4" fill="#0A96FF"/><rect x="279.15" y="112.54" width="3.4" height="3.4" fill="#0A96FF"/><rect x="286.8" y="109.76" width="3.4" height="3.4" fill="#0A96FF"/><rect x="294.45" y="106.74" width="3.4" height="3.4" fill="#0A96FF"/><rect x="302.1" y="103.72" width="3.4" height="3.4" fill="#0A96FF"/><rect x="309.75" y="100.9" width="3.4" height="3.4" fill="#0A96FF"/><rect x="317.4" y="98.09" width="3.4" height="3.4" fill="#0A96FF"/><rect x="325.05" y="95.02" width="3.4" height="3.4" fill="#0A96FF"/><rect x="332.7" y="91.42" width="3.4" height="3.4" fill="#0A96FF"/>
<path d="M30.9 212v-2.2M30.9 3.8v2.2M46.2 212v-2.2M46.2 3.8v2.2M61.5 212v-2.2M61.5 3.8v2.2M76.8 212v-2.2M76.8 3.8v2.2M92.1 212v-2.2M92.1 3.8v2.2M107.4 212v-2.2M107.4 3.8v2.2M122.7 212v-2.2M122.7 3.8v2.2M138 212v-2.2M138 3.8v2.2M153.3 212v-2.2M153.3 3.8v2.2M168.6 212v-2.2M168.6 3.8v2.2M183.9 212v-2.2M183.9 3.8v2.2M199.2 212v-2.2M199.2 3.8v2.2M214.5 212v-2.2M214.5 3.8v2.2M229.8 212v-2.2M229.8 3.8v2.2M245.1 212v-2.2M245.1 3.8v2.2M260.4 212v-2.2M260.4 3.8v2.2M275.7 212v-2.2M275.7 3.8v2.2M291 212v-2.2M291 3.8v2.2M306.3 212v-2.2M306.3 3.8v2.2M321.6 212v-2.2M321.6 3.8v2.2M336.9 212v-2.2M336.9 3.8v2.2M30.9 212h2.2M336.9 212h-2.2M30.9 206.8h2.2M336.9 206.8h-2.2M30.9 201.59h2.2M336.9 201.59h-2.2M30.9 196.39h2.2M336.9 196.39h-2.2M30.9 191.18h2.2M336.9 191.18h-2.2M30.9 185.97h2.2M336.9 185.97h-2.2M30.9 180.77h2.2M336.9 180.77h-2.2M30.9 175.56h2.2M336.9 175.56h-2.2M30.9 170.36h2.2M336.9 170.36h-2.2M30.9 165.15h2.2M336.9 165.15h-2.2M30.9 159.95h2.2M336.9 159.95h-2.2M30.9 154.75h2.2M336.9 154.75h-2.2M30.9 149.54h2.2M336.9 149.54h-2.2M30.9 144.34h2.2M336.9 144.34h-2.2M30.9 139.13h2.2M336.9 139.13h-2.2M30.9 133.93h2.2M336.9 133.93h-2.2M30.9 128.72h2.2M336.9 128.72h-2.2M30.9 123.51h2.2M336.9 123.51h-2.2M30.9 118.31h2.2M336.9 118.31h-2.2M30.9 113.1h2.2M336.9 113.1h-2.2M30.9 107.9h2.2M336.9 107.9h-2.2M30.9 102.7h2.2M336.9 102.7h-2.2M30.9 97.49h2.2M336.9 97.49h-2.2M30.9 92.28h2.2M336.9 92.28h-2.2M30.9 87.08h2.2M336.9 87.08h-2.2M30.9 81.87h2.2M336.9 81.87h-2.2M30.9 76.67h2.2M336.9 76.67h-2.2M30.9 71.47h2.2M336.9 71.47h-2.2M30.9 66.26h2.2M336.9 66.26h-2.2M30.9 61.05h2.2M336.9 61.05h-2.2M30.9 55.85h2.2M336.9 55.85h-2.2M30.9 50.65h2.2M336.9 50.65h-2.2M30.9 45.44h2.2M336.9 45.44h-2.2M30.9 40.23h2.2M336.9 40.23h-2.2M30.9 35.03h2.2M336.9 35.03h-2.2M30.9 29.82h2.2M336.9 29.82h-2.2M30.9 24.62h2.2M336.9 24.62h-2.2M30.9 19.42h2.2M336.9 19.42h-2.2M30.9 14.21h2.2M336.9 14.21h-2.2M30.9 9h2.2M336.9 9h-2.2M30.9 3.8h2.2M336.9 3.8h-2.2" stroke="#262626" stroke-width="1" fill="none"/>
<rect x="30.9" y="3.8" width="306" height="208.2" fill="none" stroke="#262626" stroke-width="1.2"/>
<g class="lg">
<rect x="45.7" y="12.4" width="44.4" height="66.6" fill="#fff" stroke="#262626" stroke-width="1.1"/>
<path d="M47 18.2H51" stroke="#F95F57" stroke-width="1.2"/><path d="M60.3 18.2H61.5" stroke="#F95F57" stroke-width="1.2"/>
<path d="M55 16.2L57.05 19.95H52.95Z" fill="#F95F57" fill-opacity="0.8" stroke="#F95F57" stroke-width="0.8"/>
<text x="63.5" y="22.2">2.5 A</text>
<path d="M47 29.1H51" stroke="#AF62F7" stroke-width="1.2"/><path d="M60.3 29.1H61.5" stroke="#AF62F7" stroke-width="1.2"/>
<path d="M53.5 27.6L56.5 30.6M53.5 30.6L56.5 27.6" fill="none" stroke="#AF62F7" stroke-width="1.0"/>
<text x="63.5" y="33.1">2.0 A</text>
<path d="M47 40.3H62.3" stroke="#70AE02" stroke-width="1.2"/>
<path d="M55 37.6L55.68 39.37L57.57 39.47L56.09 40.66L56.59 42.48L55 41.45L53.41 42.48L53.91 40.66L52.43 39.47L54.32 39.37Z" fill="#70AE02" stroke="#70AE02" stroke-width="0.4"/>
<text x="63.5" y="44.3">1.5 A</text>
<path d="M47 51.5H62.3" stroke="#FF50C8" stroke-width="1.2"/>
<circle cx="55" cy="51.5" r="1.65" fill="none" stroke="#FF50C8" stroke-width="1.3"/>
<text x="63.5" y="55.5">1.0 A</text>
<path d="M47 62.3H62.3" stroke="#17BEC2" stroke-width="1.2"/>
<path d="M55 60L56.79 62.3L55 64.6L53.21 62.3Z" fill="#17BEC2" stroke="#17BEC2" stroke-width="0.3"/>
<text x="63.5" y="66.3">0.5 A</text>
<path d="M47 73.0H62.3" stroke="#0A96FF" stroke-width="1.2"/>
<rect x="53.3" y="71.3" width="3.4" height="3.4" fill="#0A96FF"/>
<text x="63.5" y="77">0.0 A</text>
</g>
<g class="tk">
<text transform="translate(27.4 7.7) scale(0.93 1)" text-anchor="end">10</text>
<text transform="translate(27.4 33.73) scale(0.93 1)" text-anchor="end">9.5</text>
<text transform="translate(27.4 59.75) scale(0.93 1)" text-anchor="end">9</text>
<text transform="translate(27.4 85.77) scale(0.93 1)" text-anchor="end">8.5</text>
<text transform="translate(27.4 111.8) scale(0.93 1)" text-anchor="end">8</text>
<text transform="translate(27.4 137.83) scale(0.93 1)" text-anchor="end">7.5</text>
<text transform="translate(27.4 163.85) scale(0.93 1)" text-anchor="end">7</text>
<text transform="translate(27.4 189.88) scale(0.93 1)" text-anchor="end">6.5</text>
<text transform="translate(27.4 215.9) scale(0.93 1)" text-anchor="end">6</text>
<text transform="translate(31.2 225.6) scale(0.93 1)" text-anchor="middle">10</text>
<text transform="translate(92.4 225.6) scale(0.93 1)" text-anchor="middle">12</text>
<text transform="translate(153.6 225.6) scale(0.93 1)" text-anchor="middle">14</text>
<text transform="translate(214.8 225.6) scale(0.93 1)" text-anchor="middle">16</text>
<text transform="translate(276 225.6) scale(0.93 1)" text-anchor="middle">18</text>
<text transform="translate(337.2 225.6) scale(0.93 1)" text-anchor="middle">20</text>
</g>
<text class="al" x="186.5" y="237.5" text-anchor="middle">Angular displacement (°)</text>
<text class="al" transform="translate(8.2 108.9) rotate(-90)" text-anchor="middle">Torque (Nm)</text>
</svg>
</body></html>
